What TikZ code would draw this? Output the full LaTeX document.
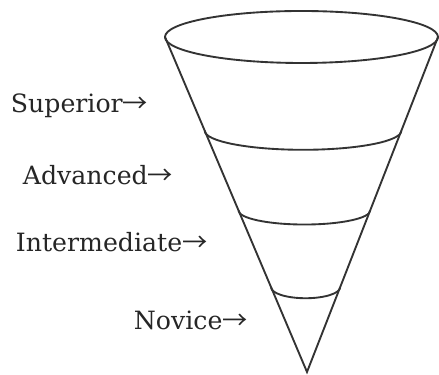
\documentclass[tikz,border=0pt]{standalone}
\usepackage{fontspec}
\setmainfont{DejaVu Serif}
\newfontfamily\cjk{Noto Sans CJK KR}
\newcommand\toarrow{{\cjk →}}
\usetikzlibrary{calc}

\begin{document}
\begin{tikzpicture}[x=0.03cm,y=0.03cm,line width=1.6pt,ink/.style={draw=black!80},level/.style={anchor=base west,inner sep=0pt,font=\fontsize{21.5}{24}\selectfont,text=black!85}]
\useasboundingbox (0,0) rectangle (439,375);
\coordinate (rimL) at (165,338);
\coordinate (rimR) at (438,338);
\coordinate (tip) at (307,3);
\draw[ink] (301.5,338) ellipse[x radius=136.5,y radius=26];
\draw[ink] (rimL) -- (tip) -- (rimR);
\foreach \t/\ry [count=\i] in {0.28/19,0.518/14,0.747/11}{
  \coordinate (bandL\i) at ($(rimL)!\t!(tip)$);
  \draw[ink] (bandL\i) arc[start angle=180,end angle=360,x radius={136.5*(1-\t)},y radius=\ry];
}
\node[level] (superior) at (10,262) {Superior\toarrow};
\node[level] (advanced) at (22,190) {Advanced\toarrow};
\node[level] (intermediate) at (15,123) {Intermediate\toarrow};
\node[level] (novice) at (133,45) {Novice\toarrow};
\end{tikzpicture}
\end{document}
